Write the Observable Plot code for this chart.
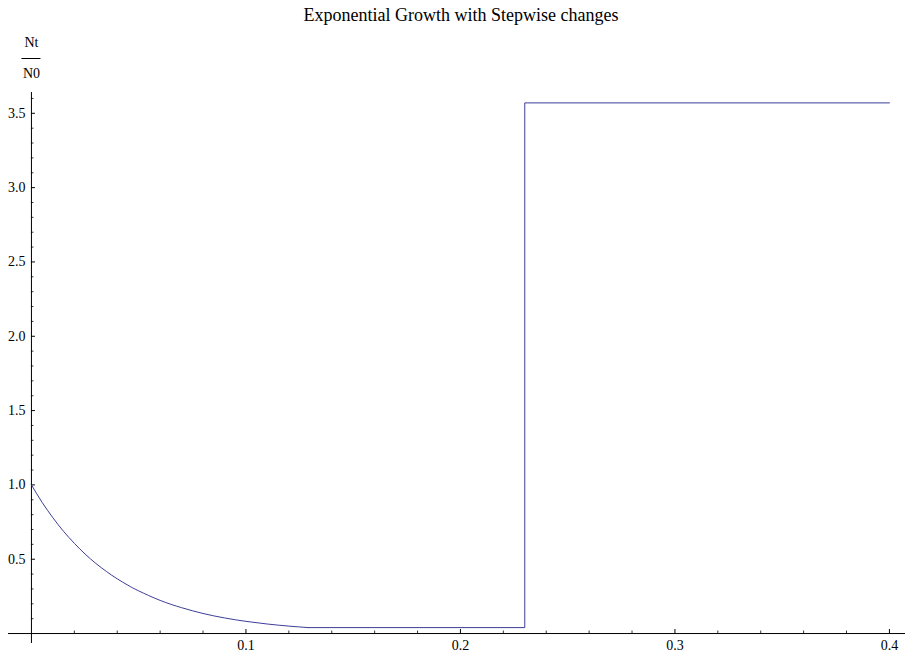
<!DOCTYPE html>
<html><head><meta charset="utf-8">
<script src="https://cdn.jsdelivr.net/npm/d3@7"></script>
<script src="https://cdn.jsdelivr.net/npm/@observablehq/plot@0.6"></script>
<style>body{margin:0;background:#fff}#chart svg{display:block}</style>
</head><body><div id="chart"></div>
<script>
// Decaying part
const decayTimes  = [0, 0.005, 0.01, 0.015, 0.02, 0.025, 0.03, 0.035, 0.04, 0.045, 0.05, 0.06, 0.07, 0.08, 0.09, 0.10, 0.11, 0.12, 0.129];
const decayRatios = [1.000, 0.882, 0.779, 0.687, 0.607, 0.535, 0.472, 0.417, 0.368, 0.325, 0.287, 0.223, 0.174, 0.135, 0.105, 0.082, 0.064, 0.050, 0.040];
// Stepwise part
const stepTimes  = [0.129, 0.23, 0.23, 0.40];
const stepRatios = [0.040, 0.040, 3.57, 3.57];
// Ticks
const xMajorTicks = [0.1, 0.2, 0.3, 0.4];
const xMinorTicks = [0.02,0.04,0.06,0.08,0.12,0.14,0.16,0.18,0.22,0.24,0.26,0.28,0.32,0.34,0.36,0.38];
const yMajorTicks = [0.5, 1.0, 1.5, 2.0, 2.5, 3.0, 3.5];
const yMinorTicks = [0.1,0.2,0.3,0.4,0.6,0.7,0.8,0.9,1.1,1.2,1.3,1.4,1.6,1.7,1.8,1.9,2.1,2.2,2.3,2.4,2.6,2.7,2.8,2.9,3.1,3.2,3.3,3.4,3.6];
const titleText = "Exponential Growth with Stepwise changes";
const yLabelTop = "Nt";
const yLabelBottom = "N0";

const W = 917, H = 654;
const mL = 8, mR = 12, mT = 92, mB = 11;
const xDomain = [-0.0107, 0.4075];
const yDomain = [-0.067, 3.64];
const pxX = (W - mL - mR) / (xDomain[1] - xDomain[0]);
const pxY = (H - mT - mB) / (yDomain[1] - yDomain[0]);
const font = "Liberation Serif, Times New Roman, serif";
const lineColor = "#3d3d99";
const fracBarY = yDomain[1] + (mT - 58) / pxY;

const decay = decayTimes.map((t, i) => ({t, v: decayRatios[i]}));
const step = stepTimes.map((t, i) => ({t, v: stepRatios[i]}));

const chart = Plot.plot({
  width: W, height: H,
  marginLeft: mL, marginRight: mR, marginTop: mT, marginBottom: mB,
  x: {domain: xDomain, axis: null},
  y: {domain: yDomain, axis: null},
  style: {fontFamily: font, background: "#fff"},
  marks: [
    Plot.ruleY([0], {stroke: "#000", strokeWidth: 1}),
    Plot.ruleX([0], {stroke: "#000", strokeWidth: 1}),
    Plot.ruleX(xMajorTicks, {x: d => d, y1: 0, y2: 4 / pxY, stroke: "#000", strokeWidth: 1}),
    Plot.ruleX(xMinorTicks, {x: d => d, y1: 0, y2: 2.5 / pxY, stroke: "#000", strokeWidth: 0.8}),
    Plot.ruleY(yMajorTicks, {y: d => d, x1: 0, x2: 4 / pxX, stroke: "#000", strokeWidth: 1}),
    Plot.ruleY(yMinorTicks, {y: d => d, x1: 0, x2: 2.5 / pxX, stroke: "#000", strokeWidth: 0.8}),
    Plot.text(xMajorTicks, {x: d => d, y: 0, dy: 12, text: d => d.toFixed(1), fontSize: 14, fill: "#000", lineAnchor: "middle"}),
    Plot.text(yMajorTicks, {x: 0, y: d => d, dx: -6, text: d => d.toFixed(1), textAnchor: "end", fontSize: 14, fill: "#000", lineAnchor: "middle"}),
    Plot.line(decay, {x: "t", y: "v", curve: "natural", stroke: lineColor, strokeWidth: 1}),
    Plot.line(step, {x: "t", y: "v", stroke: lineColor, strokeWidth: 1}),
    Plot.text([titleText], {frameAnchor: "top", dy: -77, dx: 4, text: d => d, fontSize: 18, fill: "#000", lineAnchor: "middle"}),
    Plot.text([yLabelTop], {x: 0, frameAnchor: "top", dy: -50, text: d => d, fontSize: 14, fill: "#000", lineAnchor: "middle"}),
    Plot.text([yLabelBottom], {x: 0, frameAnchor: "top", dy: -19, text: d => d, fontSize: 14, fill: "#000", lineAnchor: "middle"}),
    Plot.ruleY([fracBarY], {y: d => d, x1: -9.5 / pxX, x2: 9.5 / pxX, stroke: "#000", strokeWidth: 1})
  ]
});
document.getElementById("chart").appendChild(chart);
</script>
</body></html>
